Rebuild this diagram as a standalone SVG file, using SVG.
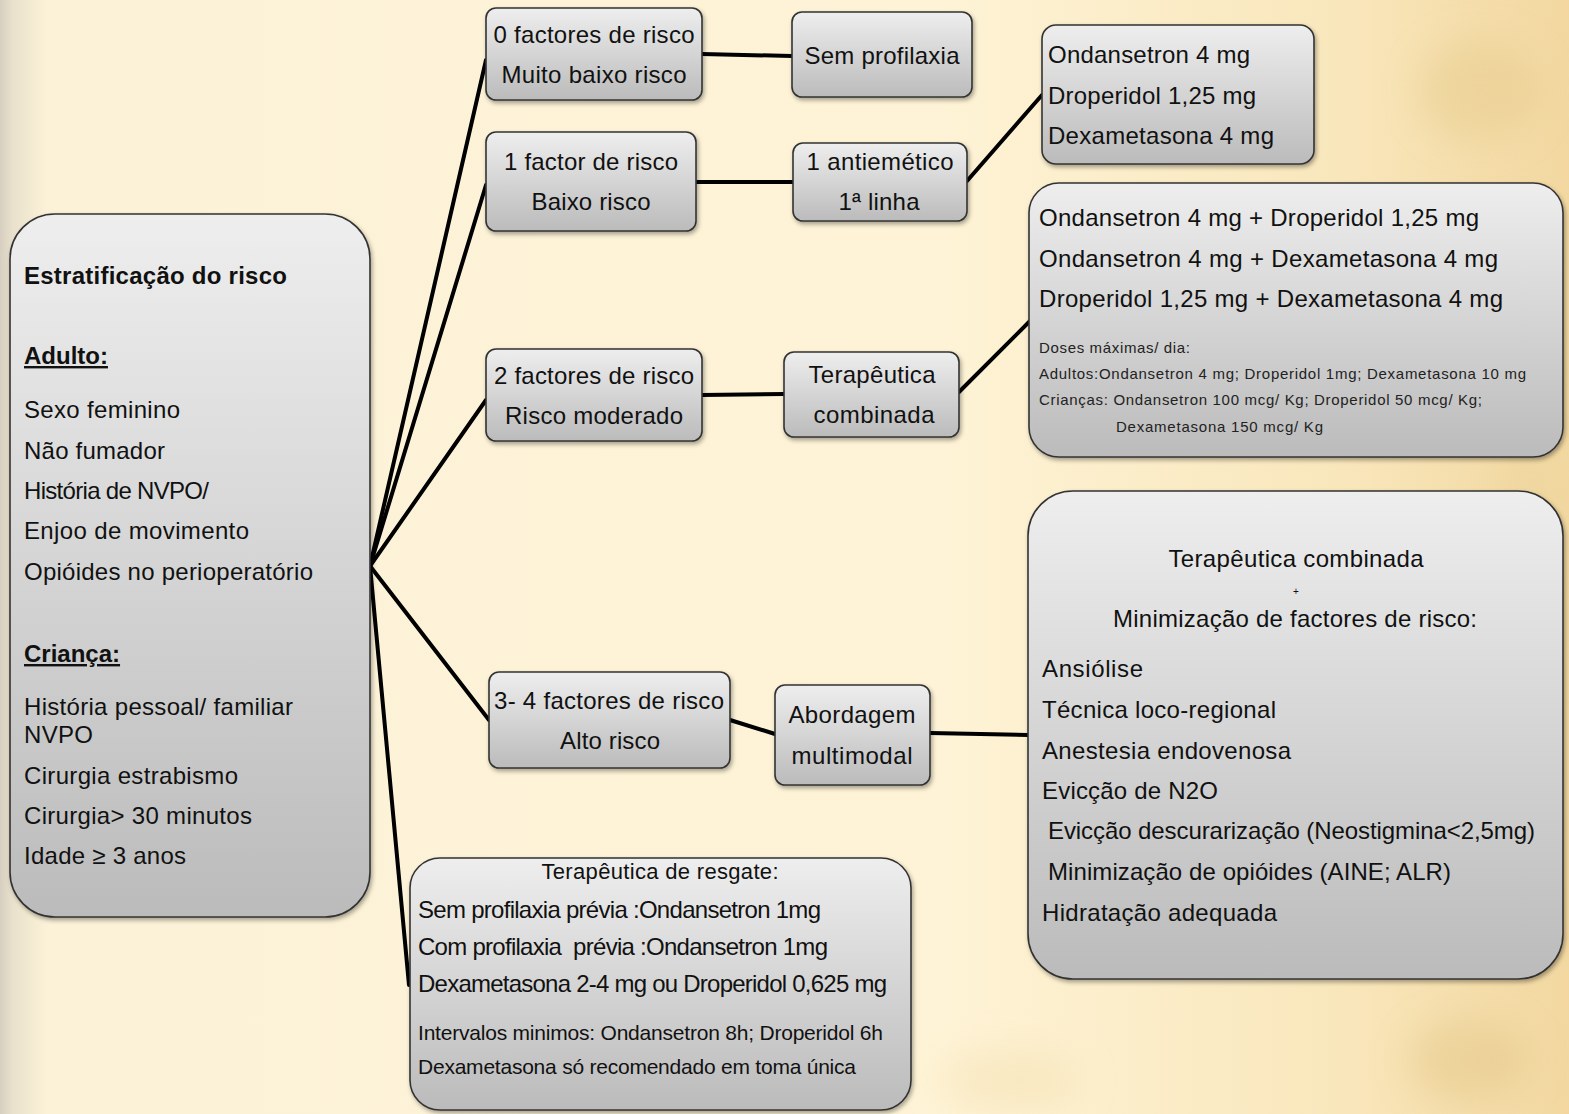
<svg xmlns="http://www.w3.org/2000/svg" width="1569" height="1114" viewBox="0 0 1569 1114">
<defs>
<linearGradient id="bg" x1="0" y1="0" x2="1" y2="0">
<stop offset="0" stop-color="#D6CFC0"/>
<stop offset="0.008" stop-color="#E9E1CC"/>
<stop offset="0.03" stop-color="#FCF2D8"/>
<stop offset="0.6" stop-color="#FEF3D6"/>
<stop offset="0.85" stop-color="#F9E7BC"/>
<stop offset="1" stop-color="#F2D7A0"/>
</linearGradient>
<linearGradient id="box" x1="0" y1="0" x2="0" y2="1">
<stop offset="0" stop-color="#EEEEEE"/>
<stop offset="1" stop-color="#BBBBBB"/>
</linearGradient>
<filter id="sh" x="-10%" y="-10%" width="120%" height="120%">
<feDropShadow dx="1.5" dy="2.5" stdDeviation="2" flood-color="#000" flood-opacity="0.35"/>
</filter>
<filter id="blur" x="-50%" y="-50%" width="200%" height="200%">
<feGaussianBlur stdDeviation="18"/>
</filter>
</defs>
<style>
.bx{fill:url(#box);stroke:#333;stroke-width:1.6;filter:url(#sh)}
.t{font-family:"Liberation Sans",Arial,sans-serif;font-size:24px;fill:#111}
.c{text-anchor:middle}
.b{font-weight:bold}
.u{text-decoration:underline}
.s{font-size:15px;fill:#222}
.m{font-size:21px}
.k{fill:none;stroke:#000;stroke-width:4;stroke-linecap:round}
</style>
<rect x="0" y="0" width="1569" height="1114" fill="url(#bg)"/>
<g filter="url(#blur)" opacity="0.55">
<ellipse cx="1480" cy="90" rx="60" ry="50" fill="#E8CD90"/>
<ellipse cx="1530" cy="560" rx="40" ry="120" fill="#EDD49C"/>
<ellipse cx="1470" cy="1060" rx="60" ry="40" fill="#E5C98C"/>
<ellipse cx="1010" cy="1080" rx="70" ry="30" fill="#F5E2B5"/>
</g>
<g id="connectors">
<line class="k" x1="370" y1="566" x2="486" y2="60"/>
<line class="k" x1="370" y1="566" x2="486" y2="185"/>
<line class="k" x1="370" y1="566" x2="486" y2="400"/>
<line class="k" x1="370" y1="566" x2="489" y2="720"/>
<line class="k" x1="370" y1="566" x2="409" y2="985"/>
<line class="k" x1="702" y1="54" x2="792" y2="56"/>
<line class="k" x1="696" y1="182" x2="793" y2="182"/>
<line class="k" x1="967" y1="181" x2="1042" y2="95"/>
<line class="k" x1="702" y1="395" x2="784" y2="394"/>
<line class="k" x1="959" y1="392" x2="1030" y2="321"/>
<line class="k" x1="730" y1="720" x2="775" y2="734"/>
<line class="k" x1="930" y1="733" x2="1028" y2="735"/>
</g>
<g id="n-estratificacao">
<rect class="bx" x="10" y="214" width="360" height="703" rx="45"/>
<text class="t b" x="24" y="284" textLength="263">Estratificação do risco</text>
<text class="t b u" x="24" y="364">Adulto:</text>
<text class="t" x="24" y="418" textLength="156">Sexo feminino</text>
<text class="t" x="24" y="459" textLength="141">Não fumador</text>
<text class="t" x="24" y="499" textLength="185">História de NVPO/</text>
<text class="t" x="24" y="539" textLength="225">Enjoo de movimento</text>
<text class="t" x="24" y="580" textLength="289">Opióides no perioperatório</text>
<text class="t b u" x="24" y="662">Criança:</text>
<text class="t" x="24" y="715" textLength="269">História pessoal/ familiar</text>
<text class="t" x="24" y="743" textLength="69">NVPO</text>
<text class="t" x="24" y="784" textLength="214">Cirurgia estrabismo</text>
<text class="t" x="24" y="824" textLength="228">Cirurgia&gt; 30 minutos</text>
<text class="t" x="24" y="864" textLength="162">Idade ≥ 3 anos</text>
</g>
<g id="n-0factores">
<rect class="bx" x="486" y="8" width="216" height="92" rx="10"/>
<text class="t c" x="594" y="43" textLength="201">0 factores de risco</text>
<text class="t c" x="594" y="83" textLength="185">Muito baixo risco</text>
</g>
<g id="n-semprofilaxia">
<rect class="bx" x="792" y="12" width="180" height="85" rx="10"/>
<text class="t c" x="882" y="64" textLength="155">Sem profilaxia</text>
</g>
<g id="n-1factor">
<rect class="bx" x="486" y="132" width="210" height="99" rx="10"/>
<text class="t c" x="591" y="170" textLength="174">1 factor de risco</text>
<text class="t c" x="591" y="210" textLength="119">Baixo risco</text>
</g>
<g id="n-antiemetico">
<rect class="bx" x="793" y="143" width="174" height="78" rx="10"/>
<text class="t c" x="880" y="170" textLength="147">1 antiemético</text>
<text class="t c" x="879" y="210" textLength="81">1ª linha</text>
</g>
<g id="n-monoterapia">
<rect class="bx" x="1042" y="25" width="272" height="139" rx="14"/>
<text class="t" x="1048" y="63" textLength="202">Ondansetron 4 mg</text>
<text class="t" x="1048" y="104" textLength="208">Droperidol 1,25 mg</text>
<text class="t" x="1048" y="144" textLength="226">Dexametasona 4 mg</text>
</g>
<g id="n-2factores">
<rect class="bx" x="486" y="349" width="216" height="92" rx="10"/>
<text class="t c" x="594" y="384" textLength="200">2 factores de risco</text>
<text class="t c" x="594" y="424" textLength="178">Risco moderado</text>
</g>
<g id="n-terapcombinada">
<rect class="bx" x="784" y="352" width="175" height="85" rx="10"/>
<text class="t c" x="872" y="383" textLength="127">Terapêutica</text>
<text class="t c" x="874" y="423" textLength="121">combinada</text>
</g>
<g id="n-combinacoes">
<rect class="bx" x="1029" y="183" width="534" height="274" rx="30"/>
<text class="t" x="1039" y="226" textLength="440">Ondansetron 4 mg + Droperidol 1,25 mg</text>
<text class="t" x="1039" y="267" textLength="459">Ondansetron 4 mg + Dexametasona 4 mg</text>
<text class="t" x="1039" y="307" textLength="464">Droperidol 1,25 mg + Dexametasona 4 mg</text>
<text class="t s" x="1039" y="353" textLength="151">Doses máximas/ dia:</text>
<text class="t s" x="1039" y="379" textLength="487">Adultos:Ondansetron 4 mg; Droperidol 1mg; Dexametasona 10 mg</text>
<text class="t s" x="1039" y="405" textLength="443">Crianças: Ondansetron 100 mcg/ Kg; Droperidol 50 mcg/ Kg;</text>
<text class="t s" x="1116" y="432" textLength="207">Dexametasona 150 mcg/ Kg</text>
</g>
<g id="n-3factores">
<rect class="bx" x="489" y="672" width="241" height="96" rx="10"/>
<text class="t c" x="609" y="709" textLength="230">3- 4 factores de risco</text>
<text class="t c" x="610" y="749" textLength="100">Alto risco</text>
</g>
<g id="n-abordagem">
<rect class="bx" x="775" y="685" width="155" height="100" rx="10"/>
<text class="t c" x="852" y="723" textLength="127">Abordagem</text>
<text class="t c" x="852" y="764" textLength="121">multimodal</text>
</g>
<g id="n-multimodal">
<rect class="bx" x="1028" y="491" width="535" height="488" rx="45"/>
<text class="t c" x="1296" y="567" textLength="255">Terapêutica combinada</text>
<text class="t c" x="1296" y="595" style="font-size:10px">+</text>
<text class="t c" x="1295" y="627" textLength="364">Minimização de factores de risco:</text>
<text class="t" x="1042" y="677" textLength="101">Ansiólise</text>
<text class="t" x="1042" y="718" textLength="234">Técnica loco-regional</text>
<text class="t" x="1042" y="759" textLength="249">Anestesia endovenosa</text>
<text class="t" x="1042" y="799" textLength="176">Evicção de N2O</text>
<text class="t" x="1048" y="839" textLength="487">Evicção descurarização (Neostigmina&lt;2,5mg)</text>
<text class="t" x="1048" y="880" textLength="403">Minimização de opióides (AINE; ALR)</text>
<text class="t" x="1042" y="921" textLength="235">Hidratação adequada</text>
</g>
<g id="n-resgate">
<rect class="bx" x="410" y="858" width="501" height="252" rx="30"/>
<text class="t c" x="660" y="879" style="font-size:22px" textLength="237">Terapêutica de resgate:</text>
<text class="t" x="418" y="918" textLength="403">Sem profilaxia prévia :Ondansetron 1mg</text>
<text class="t" x="418" y="955" textLength="410" xml:space="preserve">Com profilaxia  prévia :Ondansetron 1mg</text>
<text class="t" x="418" y="992" textLength="469">Dexametasona 2-4 mg ou Droperidol 0,625 mg</text>
<text class="t m" x="418" y="1040" textLength="465">Intervalos minimos: Ondansetron 8h; Droperidol 6h</text>
<text class="t m" x="418" y="1074" textLength="438">Dexametasona só recomendado em toma única</text>
</g>
</svg>
